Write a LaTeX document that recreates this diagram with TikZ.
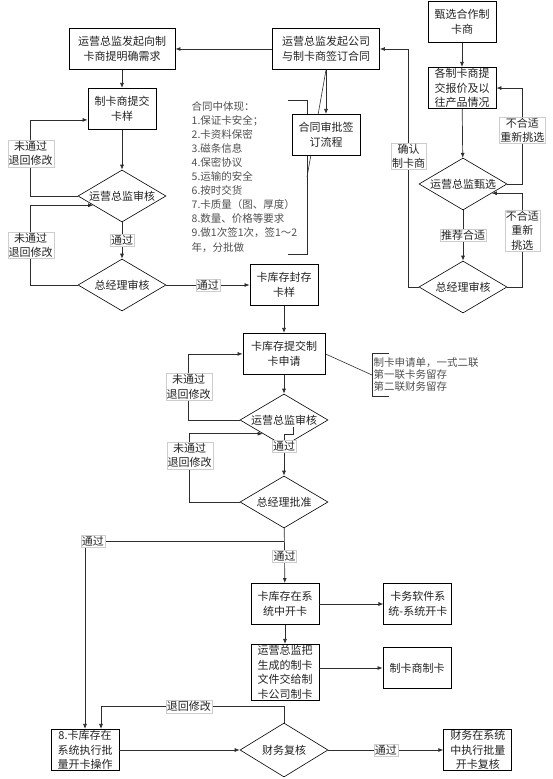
\documentclass[tikz,border=0pt]{standalone}
\usepackage{fontspec}
\setmainfont{Noto Sans CJK SC}
\usepackage{tikz}
\usetikzlibrary{shapes.geometric, arrows.meta, positioning, calc}
\definecolor{fcline}{RGB}{45,45,45}
\definecolor{fctext}{RGB}{35,35,35}
\definecolor{fclabel}{RGB}{205,205,205}
\tikzset{
  stepbox/.style  = {rectangle, draw=black, line width=0.9pt, fill=white,
                     text=fctext, align=center, minimum width=68pt,
                     minimum height=41pt, inner sep=1pt,
                     font=\fontsize{11}{14.5}\selectfont},
  widebox/.style  = {stepbox, minimum width=106pt},
  check/.style    = {diamond, draw=black, line width=0.6pt, fill=white,
                     text=fctext, align=center, aspect=1.7,
                     minimum width=88pt, minimum height=52pt, inner sep=0pt,
                     font=\fontsize{11}{14}\selectfont},
  flow/.style     = {-{Latex[length=5pt,width=4pt]}, line width=0.7pt, draw=fcline},
  link/.style     = {line width=0.6pt, draw=fcline},
  flowlab/.style  = {font=\fontsize{11}{14.5}\selectfont, text=fctext, fill=white,
                     draw=fclabel, line width=0.4pt, inner sep=1pt, align=center},
  notetext/.style = {font=\fontsize{10.5}{14.1}\selectfont, text=fctext!80,
                     align=left, inner xsep=1.5pt, inner ysep=1pt},
}

\begin{document}
\begin{tikzpicture}[x=1pt, y=-1pt]
  \useasboundingbox (0,0) rectangle (553,779);

  % selecting the card maker (right column)
  \node[stepbox] (select) at (462,22) {甄选合作制\\卡商};
  \node[stepbox, below=24pt of select] (quote) {各制卡商提\\交报价及以\\往产品情况};
  \node[check] (dC) at (463,184) {运营总监甄选};
  \node[check] (dD) at (463,287) {总经理审核};

  % contract and sample (top)
  \node[widebox, minimum width=107pt] (contract) at (326,49) {运营总监发起公司\\与制卡商签订合同};
  \node[widebox] (need) at (122,49) {运营总监发起向制\\卡商提明确需求};
  \node[stepbox, below=18pt of need] (sample) {制卡商提交\\卡样};
  \node[check] (dA) at (122,196) {运营总监审核};
  \node[check] (dB) at (122,285) {总经理审核};

  \node[notetext, anchor=north west] (ctnote) at (190,100)
    {合同中体现：\\1.保证卡安全；\\2.卡资料保密\\3.磁条信息\\4.保密协议\\5.运输的安全\\6.按时交货\\7.卡质量（图、厚度）\\8.数量、价格等要求\\9.做1次签1次，签1～2\\年，分批做};
  \coordinate (brtop) at (307,100);
  \coordinate (brbot) at (307,254);

  % card application (middle)
  \node[stepbox] (seal) at (284,285) {卡库存封存\\卡样};
  \node[stepbox, minimum width=82pt, below=27pt of seal] (apply) {卡库存提交制\\卡申请};
  \node[notetext, font=\fontsize{10.5}{12}\selectfont, inner ysep=4.5pt, anchor=west] (apnote) at (372,375)
    {制卡申请单，一式二联\\第一联卡务留存\\第二联财务留存};
  \node[check] (dE) at (284,420) {运营总监审核};
  \node[check] (dF) at (284,502) {总经理批准};

  % opening cards (bottom)
  \node[stepbox] (open) at (285,604) {卡库存在系\\统中开卡};
  \node[stepbox, right=64pt of open] (soft) {卡务软件系\\统-系统开卡};
  \node[stepbox, below=19pt of open] (send) {运营总监把\\生成的制卡\\文件交给制\\卡公司制卡};
  \node[stepbox] (make) at (417,668) {制卡商制卡};
  \node[stepbox] (batch) at (85,750) {8.卡库存在\\系统执行批\\量开卡操作};
  \node[check, minimum height=54pt] (dG) at (284,750) {财务复核};
  \node[stepbox, right=115pt of dG] (check) {财务在系统\\中执行批量\\开卡复核};

  % right loops
  \draw[flow] (select) -- (quote);
  \draw[flow] (quote) -- (dC);
  \draw[flow] (dC.east) -- ++(15,0) |- node[flowlab, pos=0.28] {不合适\\重新挑选} (quote.east);
  \coordinate (dCin) at ($(dC.east)!0.35!(dC.south)$);
  \draw[flow] (dD.east) -- ++(15,0) |- node[flowlab, pos=0.3] {不合适\\重新\\挑选} (dCin);
  \draw[flow] (dC) -- node[flowlab] {推荐合适} (dD);
  \draw[flow] (dD.west) -- ++(-10,0) |- node[flowlab, pos=0.275] {确认\\制卡商} (contract.east);

  % left loops
  \draw[flow] (contract) -- (need);
  \draw[flow] (need) -- (sample);
  \draw[flow] (sample) -- (dA);
  \draw[flow] (dA.west) -- ++(-47,0) |- node[flowlab, pos=0.28] {未通过\\退回修改} ($(sample.west)+(0,11)$);
  \draw[flow] (dA) -- node[flowlab] {通过} (dB);
  \coordinate (dAin) at ($(dA.west)!0.35!(dA.south)$);
  \draw[flow] (dB.west) -- ++(-47,0) |- node[flowlab, pos=0.25] {未通过\\退回修改} (dAin);
  \draw[flow] (dB.east) -- node[flowlab] {通过} (seal.west);

  % contract note
  \draw[link] (contract.south) -- ($(brtop)!0.5!(brbot)$);
  \draw[link] ($(brtop)+(-19,0)$) -- (brtop) -- (brbot) -- ++(-19,0);
  \node[stepbox, below=44pt of contract] (approve) {合同审批签\\订流程};
  \draw[flow] (contract) -- (approve);

  % application checks
  \draw[flow] (seal) -- (apply);
  \draw[link] (apply.east) -- (apnote.west);
  \draw[link] ($(apnote.north west)+(17,0)$) -- (apnote.north west) -- (apnote.south west) -- ++(17,0);
  \draw[flow] (apply) -- (dE);
  \draw[flow] (dE.west) -- ++(-51,0) |- node[flowlab, pos=0.25] {未通过\\退回修改} (apply.west);
  \coordinate (jog) at ($(dE)+(9,7)$);
  \draw[flow] (jog) |- ($(dE)+(0,14)$) -- node[flowlab, pos=0.3] {通过} (dF);
  \coordinate (dEin) at ($(dE.west)!0.52!(dE.south)$);
  \draw[flow] (dF.west) -- ++(-50,0) |- node[flowlab, pos=0.34] {未通过\\退回修改} (dEin);
  \draw[flow] (dF) -- node[flowlab, pos=0.51] {通过} (open);
  \coordinate (split) at ($(dF.south)+(0,13)$);
  \draw[flow] (split) -| node[flowlab, pos=0.48] {通过} (batch.north);

  % card opening
  \draw[flow] (open) -- (soft);
  \draw[flow] (open) -- (send);
  \draw[flow] (send.east |- make) -- (make);
  \draw[flow] (batch) -- (dG);
  \draw[flow] (dG.north) -- ++(0,-16) -| node[flowlab, pos=0.26] {退回修改} ($(batch.north)+(16,0)$);
  \draw[flow] (dG) -- node[flowlab] {通过} (check);
\end{tikzpicture}
\end{document}
